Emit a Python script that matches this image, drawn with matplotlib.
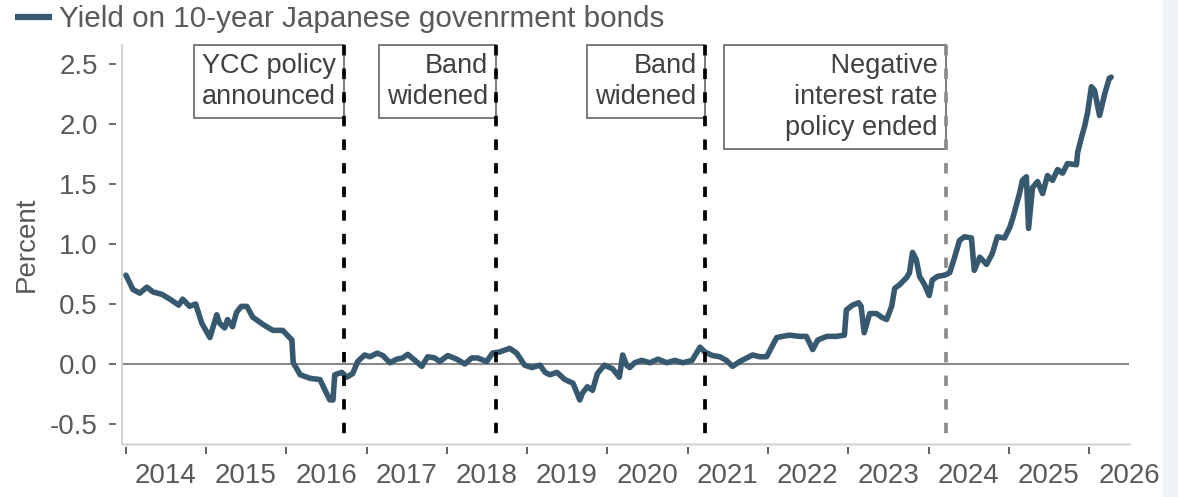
import matplotlib.pyplot as plt
import pandas as pd
from matplotlib.patches import Rectangle

plt.rcParams['font.family'] = ['Liberation Sans', 'DejaVu Sans']
plt.rcParams['axes.unicode_minus'] = False
plt.rcParams['lines.scale_dashes'] = False

# ---------------------------------------------------------------
# Data
# ---------------------------------------------------------------
dates = [
    "2014-01-01", "2014-02-02", "2014-03-05", "2014-04-06", "2014-05-04", "2014-06-14",
    "2014-07-20", "2014-08-29", "2014-09-16", "2014-10-18", "2014-11-14", "2014-12-12",
    "2015-01-18", "2015-02-18", "2015-03-03", "2015-03-26", "2015-04-08", "2015-05-01",
    "2015-05-19", "2015-06-10", "2015-07-05", "2015-08-01", "2015-09-16", "2015-10-31",
    "2015-12-15", "2016-01-26", "2016-02-01", "2016-03-04", "2016-04-18", "2016-06-02",
    "2016-06-25", "2016-07-17", "2016-07-31", "2016-08-08", "2016-09-09", "2016-10-02",
    "2016-10-29", "2016-11-20", "2016-12-22", "2017-01-15", "2017-02-17", "2017-03-15",
    "2017-04-16", "2017-05-17", "2017-06-13", "2017-07-06", "2017-08-08", "2017-09-08",
    "2017-10-05", "2017-11-06", "2017-11-29", "2018-01-04", "2018-02-14", "2018-03-23",
    "2018-04-23", "2018-05-20", "2018-06-30", "2018-07-27", "2018-08-28", "2018-10-13",
    "2018-11-14", "2018-12-20", "2019-01-22", "2019-02-28", "2019-03-23", "2019-04-14",
    "2019-05-16", "2019-06-21", "2019-07-28", "2019-08-28", "2019-09-10", "2019-10-02",
    "2019-10-25", "2019-11-16", "2019-12-18", "2020-01-24", "2020-02-24", "2020-03-10",
    "2020-03-28", "2020-04-11", "2020-05-04", "2020-06-05", "2020-07-12", "2020-08-18",
    "2020-09-27", "2020-11-02", "2020-12-09", "2021-01-20", "2021-02-25", "2021-03-19",
    "2021-04-23", "2021-05-26", "2021-06-25", "2021-07-23", "2021-08-25", "2021-09-25",
    "2021-10-23", "2021-11-24", "2021-12-25", "2022-01-17", "2022-02-09", "2022-03-07",
    "2022-04-09", "2022-05-23", "2022-06-24", "2022-07-23", "2022-08-15", "2022-09-25",
    "2022-11-08", "2022-12-14", "2022-12-23", "2023-01-20", "2023-02-17", "2023-02-28",
    "2023-03-14", "2023-04-08", "2023-05-09", "2023-06-01", "2023-06-24", "2023-07-17",
    "2023-07-31", "2023-08-22", "2023-09-23", "2023-10-06", "2023-10-20", "2023-11-06",
    "2023-11-21", "2023-12-14", "2024-01-04", "2024-01-18", "2024-02-11", "2024-03-14",
    "2024-04-06", "2024-04-27", "2024-05-21", "2024-06-13", "2024-07-14", "2024-07-27",
    "2024-08-21", "2024-09-21", "2024-10-17", "2024-11-09", "2024-12-12", "2025-01-05",
    "2025-01-19", "2025-02-06", "2025-02-19", "2025-03-03", "2025-03-21", "2025-03-31",
    "2025-04-18", "2025-05-11", "2025-06-03", "2025-06-25", "2025-07-18", "2025-08-10",
    "2025-09-02", "2025-09-24", "2025-11-04", "2025-11-09", "2025-11-27", "2025-12-11",
    "2025-12-24", "2026-01-11", "2026-01-25", "2026-02-17", "2026-03-11", "2026-04-02",
    "2026-04-11",
]
yields = [
    0.74, 0.62, 0.59, 0.64, 0.60, 0.58,
    0.54, 0.49, 0.54, 0.48, 0.50, 0.34,
    0.22, 0.41, 0.34, 0.30, 0.37, 0.31,
    0.43, 0.48, 0.48, 0.39, 0.33, 0.28,
    0.28, 0.20, 0.01, -0.09, -0.12, -0.13,
    -0.22, -0.30, -0.30, -0.09, -0.07, -0.11,
    -0.08, 0.02, 0.075, 0.06, 0.09, 0.07,
    0.01, 0.04, 0.05, 0.08, 0.03, -0.02,
    0.06, 0.05, 0.02, 0.07, 0.04, 0.00,
    0.05, 0.05, 0.02, 0.09, 0.10, 0.13,
    0.09, -0.01, -0.03, -0.01, -0.07, -0.09,
    -0.07, -0.13, -0.16, -0.30, -0.24, -0.19,
    -0.22, -0.08, -0.01, -0.04, -0.11, 0.075,
    -0.01, -0.03, 0.01, 0.03, 0.01, 0.04,
    0.01, 0.03, 0.01, 0.03, 0.14, 0.10,
    0.07, 0.06, 0.03, -0.02, 0.02, 0.05,
    0.075, 0.06, 0.06, 0.14, 0.22, 0.23,
    0.24, 0.23, 0.23, 0.12, 0.20, 0.23,
    0.23, 0.24, 0.45, 0.49, 0.51, 0.48,
    0.26, 0.42, 0.42, 0.39, 0.37, 0.48,
    0.63, 0.66, 0.72, 0.76, 0.93, 0.87,
    0.73, 0.66, 0.57, 0.70, 0.73, 0.74,
    0.76, 0.88, 1.03, 1.06, 1.05, 0.78,
    0.89, 0.83, 0.92, 1.06, 1.05, 1.14,
    1.22, 1.34, 1.43, 1.53, 1.56, 1.13,
    1.47, 1.52, 1.42, 1.57, 1.53, 1.62,
    1.59, 1.67, 1.66, 1.76, 1.89, 1.98,
    2.09, 2.31, 2.28, 2.07, 2.24, 2.38,
    2.39,
]

event_dates = ["2016-09-21", "2018-08-13", "2021-03-19", "2024-03-19"]
event_labels = ["YCC policy\nannounced", "Band\nwidened", "Band\nwidened",
                "             Negative\ninterest rate\npolicy ended"]
event_colors = ["black", "black", "black", "#8c8c8c"]

years = list(range(2014, 2027))
yticks = [-0.5, 0.0, 0.5, 1.0, 1.5, 2.0, 2.5]

series_name = "Yield on 10-year Japanese govenrment bonds"

# ---------------------------------------------------------------
line_color = "#37596f"
text_grey = "#595959"
fs = 20

W, H = 1178, 497
fig = plt.figure(figsize=(W / 100, H / 100), dpi=100)

# light strip on the right edge of the page
fig.patches.append(Rectangle((1163 / W, 0), 15 / W, 1, transform=fig.transFigure,
                             color="#eef2f5", zorder=0))

ax = fig.add_axes([122 / W, 53 / H, (1129 - 122) / W, (444 - 45) / H])

x = pd.to_datetime(dates)
ax.plot(x, yields, color=line_color, lw=4.0, solid_joinstyle="round",
        solid_capstyle="round", zorder=2, label=series_name)

ax.axhline(0, color="#8a8a8a", lw=1.5, zorder=1)

# event lines + boxes
for d, lab, c in zip(event_dates, event_labels, event_colors):
    dd = pd.Timestamp(d)
    ax.plot([dd, dd], [1, 0], transform=ax.get_xaxis_transform(), color=c,
            lw=2.7, dashes=(7.5, 9.5), zorder=4, clip_on=False)
    ax.annotate(lab, xy=(dd, 1), xycoords=("data", "axes fraction"),
                xytext=(-6, -6), textcoords="offset points",
                ha="right", va="top", fontsize=19.5, color="#404040",
                linespacing=1.25, zorder=3, annotation_clip=False,
                bbox=dict(boxstyle="square,pad=0.3", fc="white",
                          ec="#707070", lw=1.3))

ax.set_xlim(pd.Timestamp("2013-12-14"), pd.Timestamp("2026-07-01"))
ax.set_ylim(-0.667, 2.658)

# x axis: ticks at year starts, labels in the middle of each year
ax.set_xticks([pd.Timestamp(f"{y}-01-01") for y in years])
ax.set_xticklabels([])
ax.set_xticks([pd.Timestamp(f"{y}-07-01") for y in years], minor=True)
ax.set_xticklabels([str(y) for y in years], minor=True)
ax.tick_params(axis="x", which="major", length=5, width=1.3, color="#555555")
ax.tick_params(axis="x", which="minor", length=0, pad=12, labelsize=fs,
               labelcolor=text_grey)

ax.set_yticks(yticks)
ax.set_yticklabels([f"{v:.1f}" for v in yticks])
ax.tick_params(axis="y", length=5, width=1.1, color="#444444", pad=8.5,
               labelsize=fs, labelcolor=text_grey)

# spines: ticks sit a little away from the light axis lines
for side in ["top", "right"]:
    ax.spines[side].set_visible(False)
ax.spines["left"].set_position(("outward", 4))
ax.spines["bottom"].set_position(("outward", 2))
ax.spines["left"].set_color("none")
ax.spines["bottom"].set_color("none")
ax.plot([0, 0], [0, 1], transform=ax.transAxes, color="#cfcfcf", lw=1.3, clip_on=False)
ax.plot([0, 1], [0, 0], transform=ax.transAxes, color="#d9d9d9", lw=1.8, clip_on=False)

ax.set_ylabel("Percent", fontsize=fs, color=text_grey)
ax.yaxis.set_label_coords(-0.082, 0.5)

handles, labels = ax.get_legend_handles_labels()
leg = fig.legend(handles, labels, loc="center left", bbox_to_anchor=(15 / W, 1 - 19 / H),
                 frameon=False, borderpad=0, borderaxespad=0, handlelength=1.25,
                 handletextpad=0.25, fontsize=21.3, labelcolor=text_grey)
for h in leg.legend_handles:
    h.set_linewidth(4.5)
    h.set_solid_capstyle("butt")

plt.savefig("out.png", dpi=100)
